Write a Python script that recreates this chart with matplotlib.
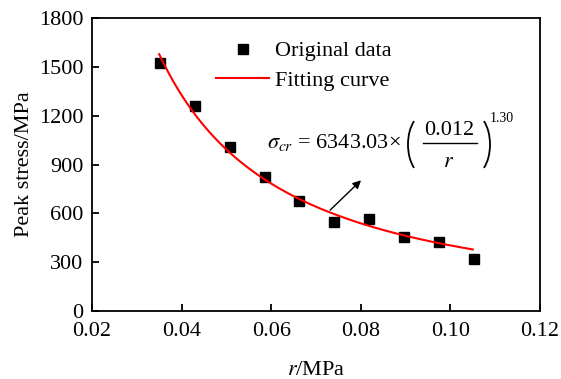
import numpy as np
import matplotlib
matplotlib.use("Agg")
import matplotlib.pyplot as plt
from matplotlib.patches import Arc
from matplotlib.lines import Line2D

plt.rcParams['font.family'] = ['Liberation Serif', 'DejaVu Serif']
plt.rcParams['mathtext.fontset'] = 'stix'
plt.rcParams['font.size'] = 16

# measured data
r_vals = [0.0352, 0.0430, 0.0508, 0.0586, 0.0662, 0.0740, 0.0818, 0.0896, 0.0975, 0.1053]
peak_stress = [1523, 1259, 1007, 823, 676, 547, 565, 455, 422, 317]

# fitted model as printed on the chart
fit_coef = 6343.03
fit_r0 = 0.012
fit_exp = 1.30
fit_range = (0.035, 0.105)

W, H = 561, 379
fig = plt.figure(figsize=(W / 100, H / 100), dpi=100)
ax = fig.add_axes([0.164, 0.1794, 0.7986, 0.7731])

rr = np.linspace(fit_range[0], fit_range[1], 200)
ax.plot(r_vals, peak_stress, 's', color='black', markersize=7.5, label='Original data')
ax.plot(rr, fit_coef * (fit_r0 / rr) ** fit_exp, color='red', lw=1.5, label='Fitting curve')

ax.set_xlim(0.02, 0.12)
ax.set_ylim(0, 1800)
ax.set_xticks([0.02, 0.04, 0.06, 0.08, 0.10, 0.12])
ax.set_xticklabels(['0.02', '0.04', '0.06', '0.08', '0.10', '0.12'])
ax.set_yticks(range(0, 1801, 300))
ax.tick_params(direction='in', length=5, width=1.3, labelsize=16)
ax.tick_params(axis='x', pad=8)
ax.tick_params(axis='y', pad=6)
for s in ax.spines.values():
    s.set_linewidth(1.3)

ax.set_xlabel(r'$\it{r}$/MPa', fontsize=16, labelpad=14)
ax.set_ylabel('Peak stress/MPa', fontsize=16, labelpad=4)

ax.legend(loc='upper left', bbox_to_anchor=(0.257, 0.9525), frameon=False, fontsize=16,
          handlelength=2.4, handletextpad=0.25, labelspacing=0.4, borderaxespad=0)

# equation, built in pixel coordinates (origin top-left)
px = fig.dpi_scale_trans


def P(x, y):
    return x / 100, (H - y) / 100


fig.text(*P(267, 148), r'$\sigma_{cr}$ = 6343.03×', fontsize=16, va='baseline', ha='left',
         transform=px)
fig.text(*P(449, 135), '0.012', fontsize=16, va='baseline', ha='center', transform=px)
fig.text(*P(449, 167), r'$\mathit{r}$', fontsize=16, va='baseline', ha='center', transform=px)
fig.text(*P(490, 122), '1.30', fontsize=10, va='baseline', ha='left', transform=px)
fig.add_artist(Line2D([4.23, 4.77], [(H - 143) / 100] * 2, color='black', lw=1, transform=px))
fig.add_artist(Arc(P(425, 144.5), 0.34, 0.61, theta1=115, theta2=245, lw=1.3,
                   color='black', transform=px))
fig.add_artist(Arc(P(473, 144.5), 0.34, 0.61, theta1=-65, theta2=65, lw=1.3,
                   color='black', transform=px))

ax.annotate('', xy=(0.0805, 815), xytext=(0.0727, 608),
            arrowprops=dict(arrowstyle='-|>', color='black', lw=1, mutation_scale=12))

fig.savefig('out.png', dpi=100)
